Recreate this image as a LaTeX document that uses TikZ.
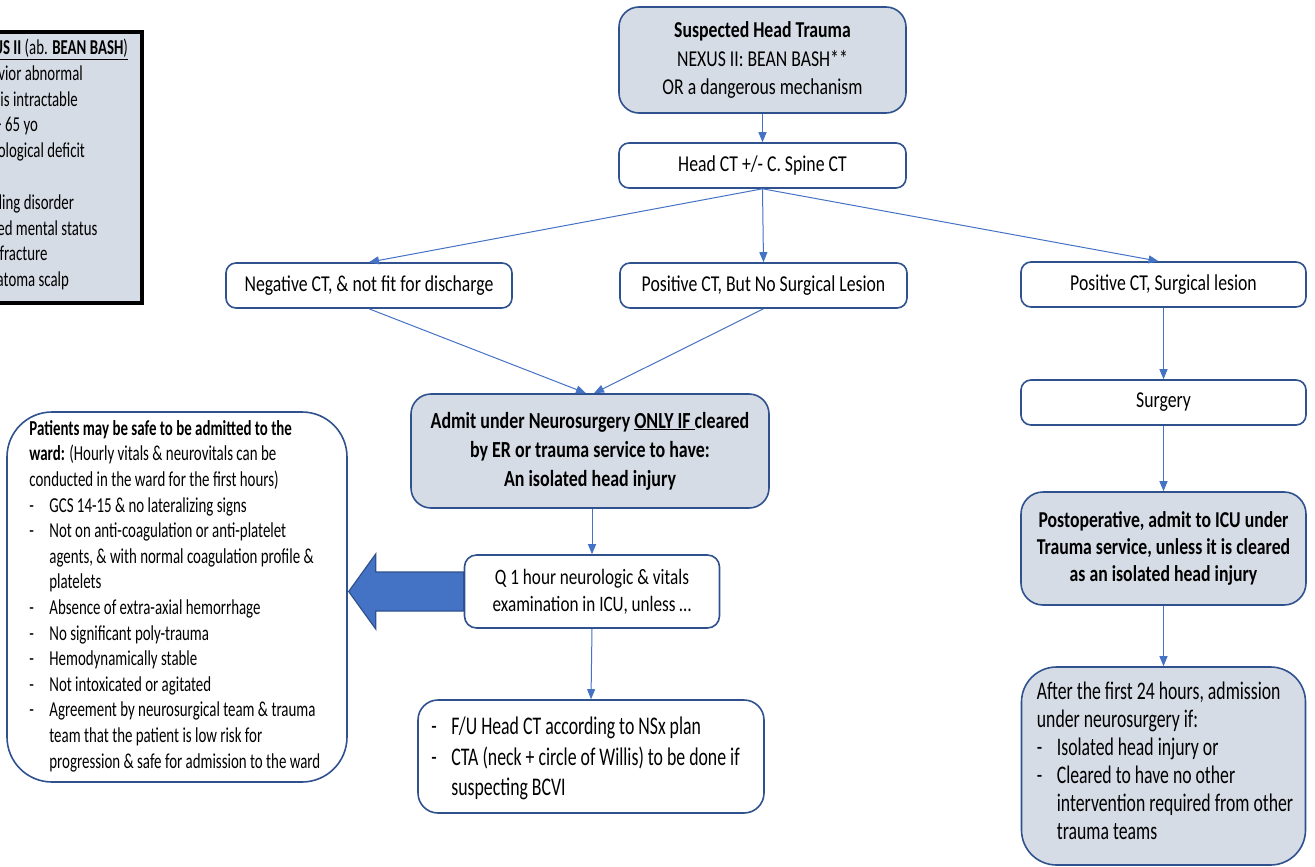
\documentclass[tikz,border=0pt]{standalone}
\usepackage{fontspec}
\setmainfont{Carlito}[FakeStretch=0.78]
\newfontfamily\narrowfont{Carlito}[FakeStretch=0.70]
\usetikzlibrary{arrows.meta,calc}
\definecolor{edge}{HTML}{2F528F}
\definecolor{shade}{HTML}{D6DCE5}
\definecolor{flow}{HTML}{4472C4}
% list helpers: a dash item and a continuation line
\newcommand{\dashitem}[1]{\makebox[20pt][l]{-}#1}
\newcommand{\contline}[1]{\hspace*{20pt}#1}

\begin{document}
\begin{tikzpicture}[x=1pt,y=-1pt,
  card/.style={draw=edge, line width=1.6pt, fill=white, rounded corners=10pt,
    inner sep=0pt, align=center, font=\fontsize{22.7}{28}\selectfont},
  tinted/.style={fill=shade},
  listtext/.style={inner sep=0pt, align=left, anchor=west},
  flowline/.style={draw=flow, line width=1pt, -{Triangle[length=10pt,width=8pt]}},
  bigarrow/.style={draw=edge, fill=flow, line width=1.2pt, line join=miter}
]
\useasboundingbox (0,0) rectangle (1315,867);
\clip (0,0) rectangle (1315,867);

% mnemonic legend, partly running off the left edge
\node[draw=black, line width=4pt, fill=shade, minimum width=192pt, minimum height=271pt,
  inner sep=0pt] (nexus) at (46,167.5) {};
\node[listtext, font=\narrowfont\fontsize{21.2}{25.8}\selectfont] (nexustext) at ($(nexus.west)+(20,-3)$)
  {\underline{\textbf{NEXUS II} (ab. \textbf{BEAN BASH})}\\
   Behavior abnormal\\
   Emesis intractable\\
   Age > 65 yo\\
   Neurological deficit\\
   \strut\\
   Bleeding disorder\\
   Altered mental status\\
   Skull fracture\\
   Hematoma scalp};

% main flow
\node[card, tinted, rounded corners=20pt, minimum width=287pt, minimum height=106pt,
  font=\fontsize{22.7}{28.5}\selectfont] (top) at (762.5,60)
  {\textbf{Suspected Head Trauma}\\NEXUS II: BEAN BASH**\\OR a dangerous mechanism};
\node[card, minimum width=287pt, minimum height=45pt] (headct) at (762.5,165.5)
  {Head CT +/- C. Spine CT};

\node[card, minimum width=286pt, minimum height=45pt] (neg) at (369,285.5)
  {Negative CT, \& not fit for discharge};
\node[card, minimum width=287pt, minimum height=45pt] (posns) at (763.5,285.5)
  {Positive CT, But No Surgical Lesion};
\node[card, minimum width=285pt, minimum height=45pt] (posl) at (1163.5,284.5)
  {Positive CT, Surgical lesion};

\node[card, tinted, rounded corners=20pt, minimum width=358pt, minimum height=114pt,
  font=\fontsize{23}{29}\selectfont\bfseries] (admit) at (590,451)
  {Admit under Neurosurgery \underline{ONLY IF\ }cleared\\by ER or trauma service to have:\\An isolated head injury};
\node[card, rounded corners=12pt, minimum width=255pt, minimum height=73pt,
  font=\fontsize{22}{27}\selectfont] (q1) at (592,591.5)
  {Q 1 hour neurologic \& vitals\\examination in ICU, unless …};

\node[card, rounded corners=20pt, minimum width=346pt, minimum height=113pt] (fu) at (591,756.5) {};
\node[listtext, font=\narrowfont\fontsize{25.4}{30.5}\selectfont] (futext) at ($(fu.west)+(14,2)$)
  {\dashitem{F/U Head CT according to NSx plan}\\
   \dashitem{CTA (neck + circle of Willis) to be done if}\\
   \contline{suspecting BCVI}};

\node[card, rounded corners=45pt, minimum width=340pt, minimum height=370pt] (safe) at (177,597) {};
\node[listtext, font=\narrowfont\fontsize{21.3}{25.6}\selectfont] (safetext) at ($(safe.west)+(23,-1)$)
  {\textbf{Patients may be safe to be admitted to the}\\
   \textbf{ward:} (Hourly vitals \& neurovitals can be\\
   conducted in the ward for the first hours)\\
   \dashitem{GCS 14-15 \& no lateralizing signs}\\
   \dashitem{Not on anti-coagulation or anti-platelet}\\
   \contline{agents, \& with normal coagulation profile \&}\\
   \contline{platelets}\\
   \dashitem{Absence of extra-axial hemorrhage}\\
   \dashitem{No significant poly-trauma}\\
   \dashitem{Hemodynamically stable}\\
   \dashitem{Not intoxicated or agitated}\\
   \dashitem{Agreement by neurosurgical team \& trauma}\\
   \contline{team that the patient is low risk for}\\
   \contline{progression \& safe for admission to the ward}};

\node[card, minimum width=285pt, minimum height=45pt] (surg) at (1163.5,402.5) {Surgery};
\node[card, tinted, rounded corners=22pt, minimum width=285pt, minimum height=113pt,
  font=\fontsize{22.7}{26.7}\selectfont\bfseries] (postop) at (1163.5,548.5)
  {Postoperative, admit to ICU under\\Trauma service, unless it is cleared\\as an isolated head injury};
\node[card, tinted, rounded corners=35pt, minimum width=284pt, minimum height=198pt] (after) at (1163.5,766) {};
\node[listtext, font=\narrowfont\fontsize{25.3}{28}\selectfont] (aftertext) at ($(after.west)+(16,-5)$)
  {After the first 24 hours, admission\\
   under neurosurgery if:\\
   \dashitem{Isolated head injury or}\\
   \dashitem{Cleared to have no other}\\
   \contline{intervention required from other}\\
   \contline{trauma teams}};

% connectors
\draw[flowline] (top) -- (headct);
\draw[flowline] (headct.south) -- (neg.north);
\draw[flowline] (headct.south) -- (posns.north);
\draw[flowline] (headct.south) -- ($(posl.north)+(-5,0)$);
\draw[flowline] (neg.south) -- ($(admit.north)+(-4,0)$);
\draw[flowline] (posns.south) -- ($(admit.north)+(4,0)$);
\draw[flowline] (q1.north |- admit.south) -- (q1.north);
\draw[flowline] (q1.south) -- (fu.north);
\draw[flowline] (posl) -- (surg);
\draw[flowline] (surg) -- (postop);
\draw[flowline] (postop) -- (after);

% block arrow pointing from the ICU check to the ward criteria
\draw[bigarrow] ($(q1.west)+(0,-19.5)$) -- ++(-88,0) -- ++(0,-18) -- ++(-27,37.5)
  -- ++(27,37.5) -- ++(0,-18) -- ++(88,0) -- cycle;
\end{tikzpicture}
\end{document}
